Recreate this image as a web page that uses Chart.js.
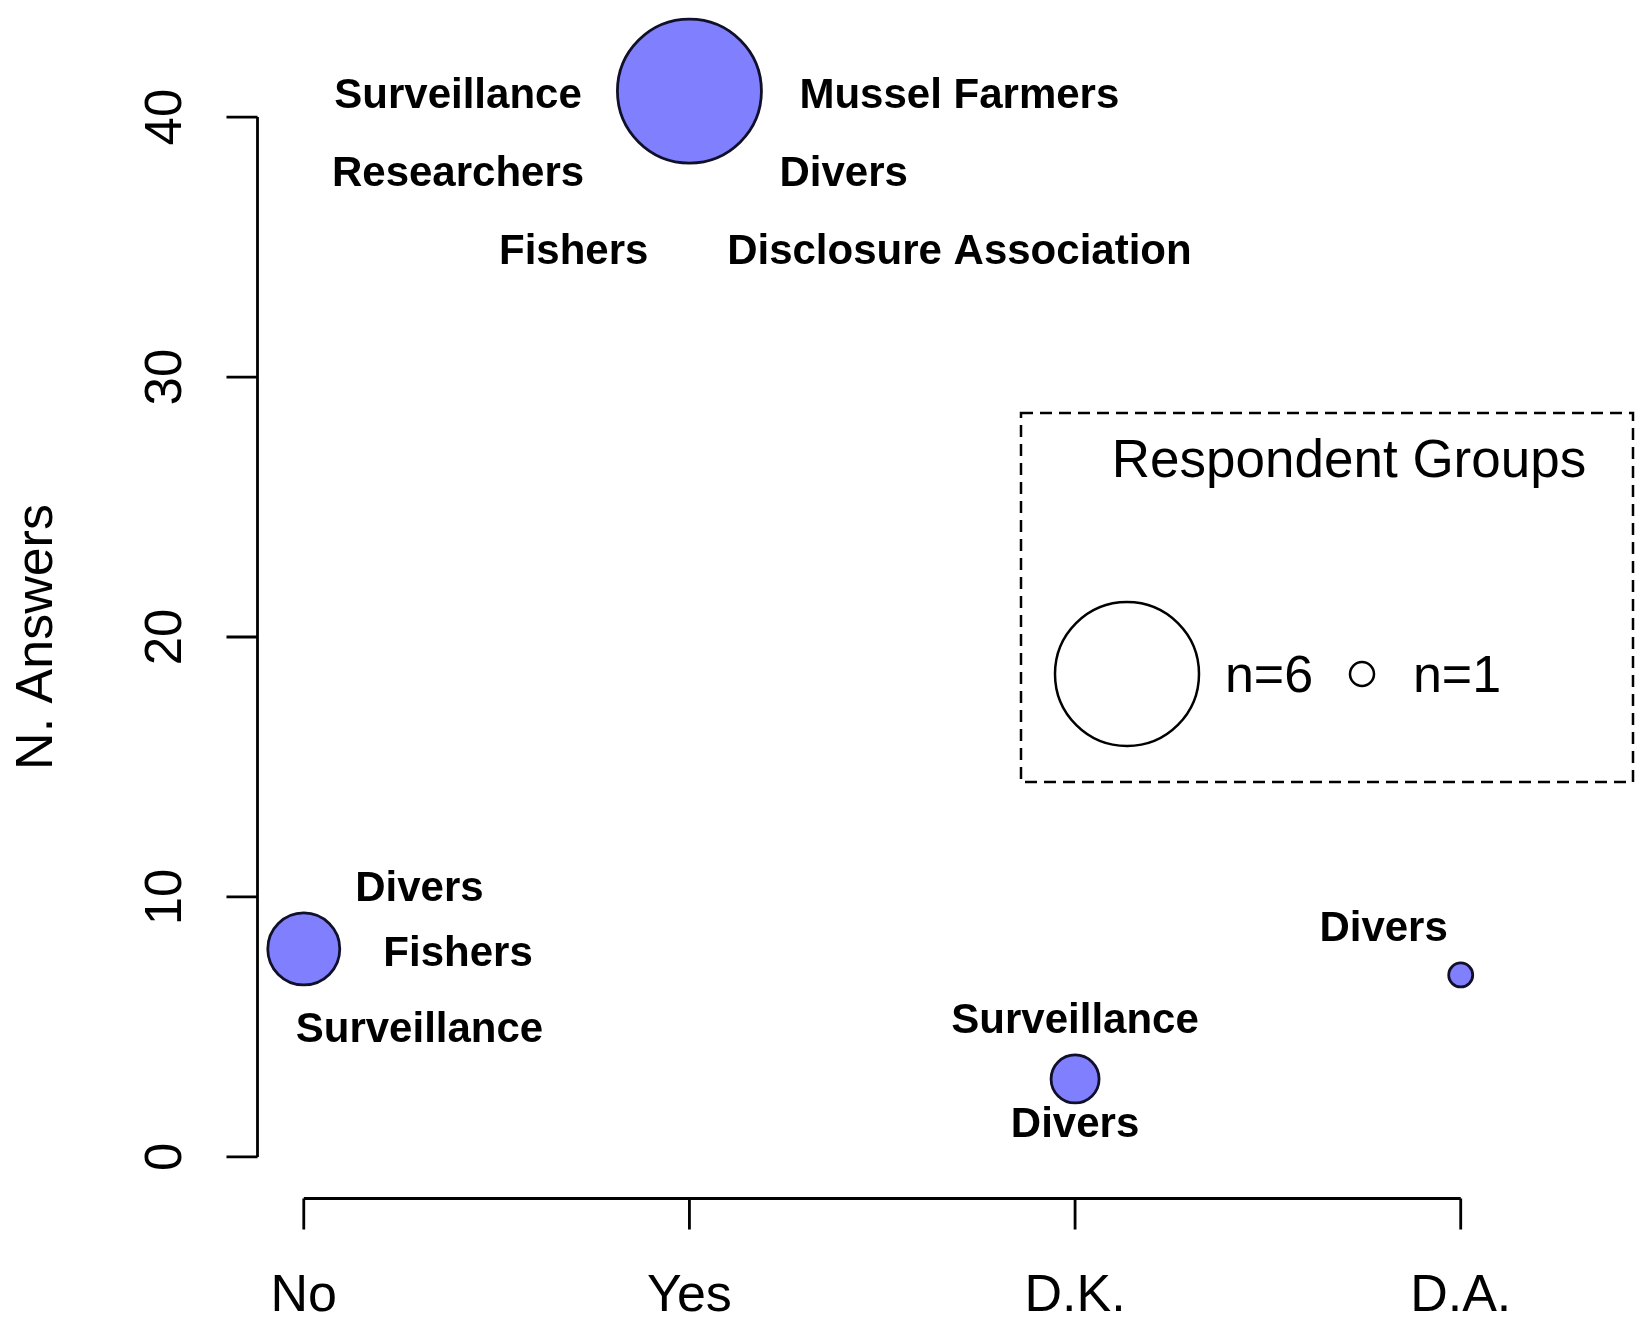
<!DOCTYPE html>
<html>
<head>
<meta charset="utf-8">
<script src="https://cdn.jsdelivr.net/npm/chart.js@4.4.1/dist/chart.umd.min.js"></script>
<style>
  html, body { margin: 0; padding: 0; background: #fff; }
</style>
</head>
<body>
<canvas id="myChart" width="1650" height="1328"></canvas>
<script>
const categories = ['No', 'Yes', 'D.K.', 'D.A.'];
const answers = [8, 41, 3, 7];
const groupCounts = [3, 6, 2, 1];
const yTicks = [0, 10, 20, 30, 40];
const legendCounts = [6, 1];

// respondent groups written around each bubble
const groupNames = [
  ['Divers', 'Fishers', 'Surveillance'],
  ['Surveillance', 'Researchers', 'Fishers', 'Mussel Farmers', 'Divers', 'Disclosure Association'],
  ['Surveillance', 'Divers'],
  ['Divers']
];
// where those names sit, in axis units
const nameSpots = [
  [[0.3, 10.4], [0.4, 7.9], [0.3, 4.95]],
  [[0.4, 40.9], [0.4, 37.9], [0.7, 34.9], [1.7, 40.9], [1.4, 37.9], [1.7, 34.9]],
  [[2.0, 5.3], [2.0, 1.3]],
  [[2.8, 8.85]]
];

const pxPerGroup = 12;
const FONT = '"Liberation Sans", Arial, Helvetica, sans-serif';

const baseAxes = {
  id: 'baseAxes',
  afterDraw(chart) {
    const { ctx, chartArea, scales: { x, y } } = chart;
    ctx.save();
    ctx.strokeStyle = '#000';
    ctx.fillStyle = '#000';
    ctx.lineWidth = 2.8;
    ctx.lineCap = 'butt';

    // y axis
    const left = chartArea.left;
    ctx.beginPath();
    ctx.moveTo(left, y.getPixelForValue(yTicks[0]));
    ctx.lineTo(left, y.getPixelForValue(yTicks[yTicks.length - 1]));
    yTicks.forEach(v => {
      const py = y.getPixelForValue(v);
      ctx.moveTo(left, py);
      ctx.lineTo(left - 31, py);
    });
    ctx.stroke();

    ctx.textAlign = 'center';
    ctx.textBaseline = 'middle';
    ctx.font = '51px ' + FONT;
    yTicks.forEach(v => {
      ctx.save();
      ctx.translate(left - 91, y.getPixelForValue(v));
      ctx.rotate(-Math.PI / 2);
      ctx.fillText(String(v), 0, 0);
      ctx.restore();
    });

    ctx.save();
    ctx.font = '52px ' + FONT;
    ctx.translate(38, (chartArea.top + chartArea.bottom) / 2);
    ctx.rotate(-Math.PI / 2);
    ctx.fillText('N. Answers', 0, 0);
    ctx.restore();

    // x axis
    const bottom = chartArea.bottom;
    ctx.beginPath();
    ctx.moveTo(x.getPixelForValue(0), bottom);
    ctx.lineTo(x.getPixelForValue(categories.length - 1), bottom);
    categories.forEach((c, i) => {
      const px = x.getPixelForValue(i);
      ctx.moveTo(px, bottom);
      ctx.lineTo(px, bottom + 31);
    });
    ctx.stroke();

    ctx.font = '52px ' + FONT;
    categories.forEach((c, i) => {
      ctx.fillText(c, x.getPixelForValue(i), bottom + 98);
    });

    // group names
    ctx.font = 'bold 42px ' + FONT;
    groupNames.forEach((names, i) => {
      names.forEach((n, j) => {
        const [gx, gy] = nameSpots[i][j];
        ctx.fillText(n, x.getPixelForValue(gx), y.getPixelForValue(gy) + 2.5);
      });
    });

    // size legend
    ctx.lineWidth = 2.5;
    ctx.setLineDash([12, 7]);
    ctx.strokeRect(1021, 413, 612, 369);
    ctx.setLineDash([]);
    ctx.font = '53px ' + FONT;
    ctx.fillText('Respondent Groups', 1349, 462);

    const legendX = [1127, 1362];
    const textX = [1269, 1457];
    ctx.font = '52px ' + FONT;
    legendCounts.forEach((n, k) => {
      ctx.beginPath();
      ctx.arc(legendX[k], 674, n * pxPerGroup, 0, Math.PI * 2);
      ctx.stroke();
      ctx.fillText('n=' + n, textX[k], 678);
    });

    ctx.restore();
  }
};

new Chart(document.getElementById('myChart'), {
  type: 'bubble',
  data: {
    datasets: [{
      data: categories.map((c, i) => ({ x: i, y: answers[i], r: groupCounts[i] * pxPerGroup })),
      backgroundColor: '#8080ff',
      borderColor: '#10102a',
      borderWidth: 2.8,
      clip: false
    }]
  },
  options: {
    responsive: false,
    animation: false,
    events: [],
    layout: { padding: { left: 257.5, right: 143, top: 75.5, bottom: 129.5 } },
    scales: {
      x: { type: 'linear', min: -0.12, max: 3.12, display: false },
      y: { type: 'linear', min: -1.6, max: 41.6, display: false }
    },
    plugins: {
      legend: { display: false },
      tooltip: { enabled: false }
    }
  },
  plugins: [baseAxes]
});
</script>
</body>
</html>
